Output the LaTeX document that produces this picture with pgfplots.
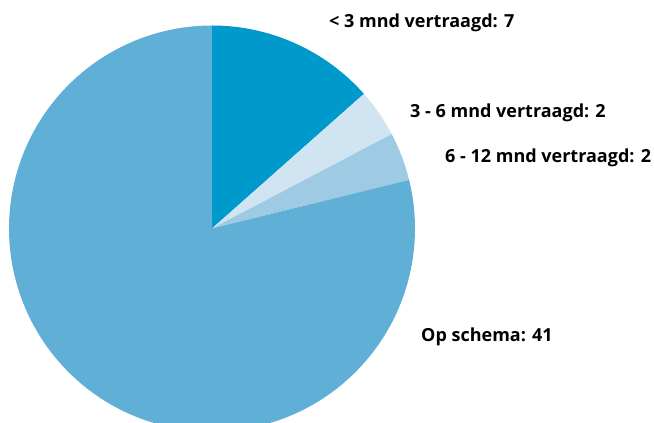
\documentclass[border=0pt]{standalone}
\usepackage{fontspec}
\setmainfont{Open Sans}
\usepackage{pgfplots}
\pgfplotsset{compat=1.18}
\definecolor{sA}{HTML}{0099CC}
\definecolor{sB}{HTML}{D0E4F1}
\definecolor{sC}{HTML}{9FCAE4}
\definecolor{sD}{HTML}{60AFD6}
\begin{document}
\begin{tikzpicture}
\begin{axis}[
  width=654pt, height=423pt, scale only axis,
  xmin=0, xmax=654, ymin=0, ymax=423,
  hide axis, clip=true,
]
% pie: centre (212,194.5), radius 203; cumulative counts out of 52, clockwise from top
\addplot[fill=sA, draw=none, domain=0:7, samples=60]
  ({212+203*sin(x*360/52)}, {194.5+203*cos(x*360/52)}) -- (axis cs:212,194.5) -- cycle;
\addplot[fill=sB, draw=none, domain=7:9, samples=30]
  ({212+203*sin(x*360/52)}, {194.5+203*cos(x*360/52)}) -- (axis cs:212,194.5) -- cycle;
\addplot[fill=sC, draw=none, domain=9:11, samples=30]
  ({212+203*sin(x*360/52)}, {194.5+203*cos(x*360/52)}) -- (axis cs:212,194.5) -- cycle;
\addplot[fill=sD, draw=none, domain=11:52, samples=200]
  ({212+203*sin(x*360/52)}, {194.5+203*cos(x*360/52)}) -- (axis cs:212,194.5) -- cycle;
\node[anchor=west, inner sep=0pt, font=\fontsize{18}{21}\selectfont\bfseries] at (axis cs:329,400) {< 3 mnd vertraagd: 7};
\node[anchor=west, inner sep=0pt, font=\fontsize{18}{21}\selectfont\bfseries] at (axis cs:410,310) {3 - 6 mnd vertraagd: 2};
\node[anchor=west, inner sep=0pt, font=\fontsize{18}{21}\selectfont\bfseries] at (axis cs:445,265) {6 - 12 mnd vertraagd: 2};
\node[anchor=west, inner sep=0pt, font=\fontsize{18}{21}\selectfont\bfseries] at (axis cs:421,86) {Op schema: 41};
\end{axis}
\pgfresetboundingbox
\useasboundingbox (current axis.south west) rectangle (current axis.north east);
\end{tikzpicture}
\end{document}
